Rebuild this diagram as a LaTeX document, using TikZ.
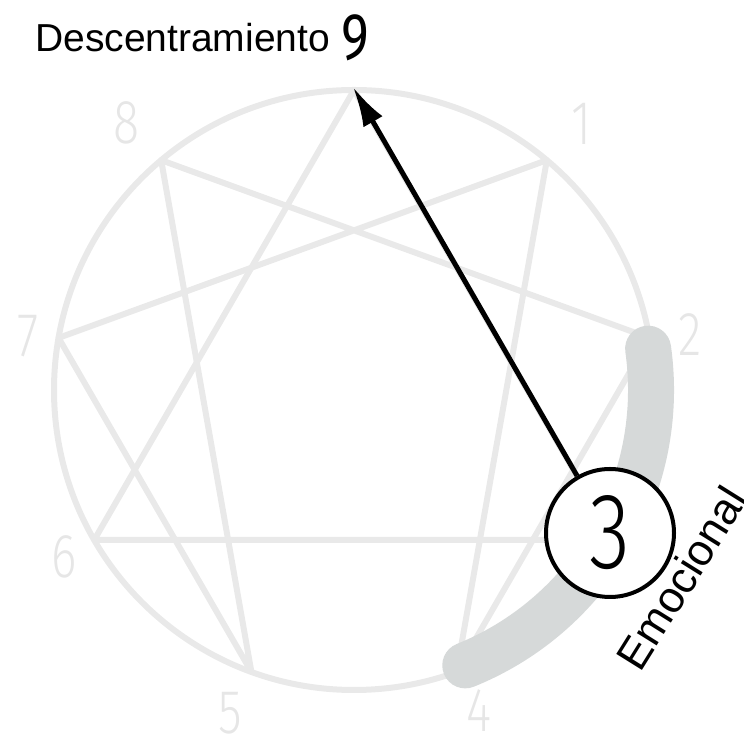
\documentclass[tikz,border=0pt]{standalone}
\usepackage{fontspec}
\setmainfont{Liberation Sans}
\IfFontExistsTF{Fira Sans Light}
  {\newfontfamily\digitfont[FakeStretch=0.78]{Fira Sans Light}}
  {\newfontfamily\digitfont[FakeStretch=0.78]{Fira Sans}}
\newfontfamily\ninefont[FakeStretch=0.8]{Fira Sans}
\usetikzlibrary{arrows.meta,calc}
\definecolor{linegray}{RGB}{233,233,233}
\definecolor{numgray}{RGB}{230,230,230}
\definecolor{bandgray}{RGB}{214,217,217}
\tikzset{
  enne/.style={draw=linegray, line width=6pt, line join=round},
  band/.style={draw=bandgray, line width=46pt, line cap=round},
  pointer/.style={draw=black, line width=5pt, -{Latex[length=40pt,width=22pt]}},
  numlabel/.style={text=numgray, font=\digitfont\fontsize{62}{62}\selectfont, inner sep=0pt},
  typebox/.style={circle, draw=black, line width=4pt, fill=white, minimum size=128pt, inner sep=0pt,
    font=\digitfont\fontsize{108}{108}\selectfont},
  heading/.style={font=\fontsize{39}{41}\selectfont, inner sep=0pt}
}
\begin{document}
\begin{tikzpicture}[x=1pt,y=1pt]
\useasboundingbox (0,0) rectangle (744,738);
\coordinate (c) at (354,348);
\foreach \n/\a in {9/90,1/50,2/10,3/-30,4/-70,5/-110,6/-150,7/170,8/130}
  \coordinate (p\n) at ($(c)+(\a:300)$);
% enneagram lines
\draw[enne] (p9) -- (p3) -- (p6) -- cycle;
\draw[enne] (p1) -- (p4) -- (p2) -- (p8) -- (p5) -- (p7) -- cycle;
\draw[enne] (c) circle[radius=300];
% gray band
\draw[band] ($(c)+(8:297)$) arc[start angle=8, end angle=-68, radius=297];
% number labels
\node[numlabel] (l1) at (581,614) {1};
\node[numlabel] (l2) at (690,403) {2};
\node[numlabel] (l4) at (479,27) {4};
\node[numlabel] (l5) at (230,25) {5};
\node[numlabel] (l6) at (64,181) {6};
\node[numlabel] (l7) at (28,402) {7};
\node[numlabel] (l8) at (127,615) {8};
% type 3
\node[typebox] (n3) at (610,205) {3};
\coordinate (tip) at (353,651);
\draw[pointer] (n3) -- (tip);
% texts
\node[heading, anchor=base west] (desc) at (35,686) {Descentramiento};
\node[font=\ninefont\fontsize{66}{66}\selectfont, inner sep=0pt, anchor=base] (l9) at (355,678) {9};
\node[font=\fontsize{44}{46}\selectfont, inner sep=0pt, anchor=base west, rotate=58] (emo) at (640,64) {Emocional};
\end{tikzpicture}
\end{document}
